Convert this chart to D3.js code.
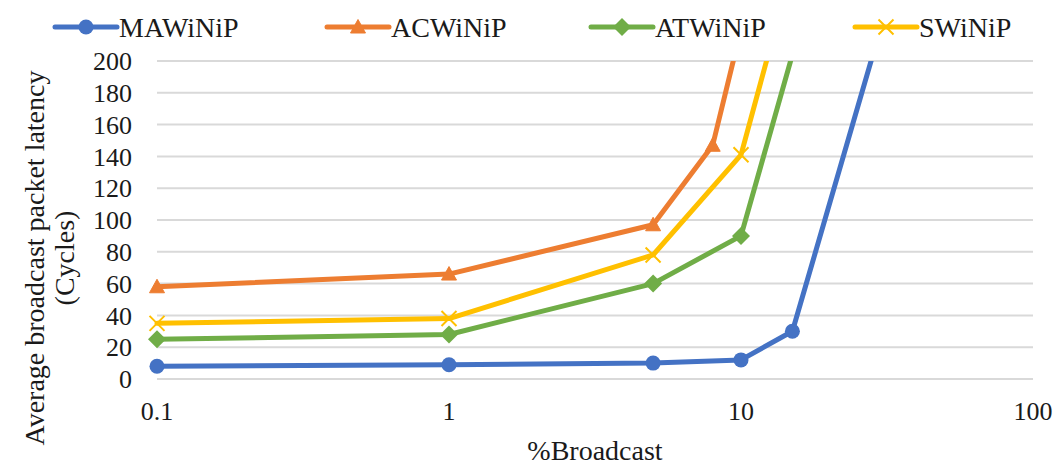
<!DOCTYPE html>
<html>
<head>
<meta charset="utf-8">
<script src="https://cdn.jsdelivr.net/npm/d3@7"></script>
<style>
  body { margin: 0; background: #fff; }
</style>
</head>
<body>
<svg id="chart" width="1057" height="466"></svg>
<script>
// values (lines leave the top of the plot, last points are estimates)
const seriesNames = ["MAWiNiP", "ACWiNiP", "ATWiNiP", "SWiNiP"];
const mawX = [0.1, 1, 5, 10, 15, 30];
const mawY = [8, 9, 10, 12, 30, 220];
const acwX = [0.1, 1, 5, 8, 10];
const acwY = [58, 66, 97, 147, 220];
const atwX = [0.1, 1, 5, 10, 20];
const atwY = [25, 28, 60, 90, 285];
const swX = [0.1, 1, 5, 10, 15];
const swY = [35, 38, 78, 141, 260];
const xTicks = [0.1, 1, 10, 100];
const yTicks = [0, 20, 40, 60, 80, 100, 120, 140, 160, 180, 200];

const colors = ["#4472C4", "#ED7D31", "#70AD47", "#FFC000"];
const symbols = ["circle", "triangle", "diamond", "x"];
const FONT = "'Liberation Serif', 'DejaVu Serif', serif";

const series = [
  { name: seriesNames[0], pts: mawX.map((x, i) => ({ x, y: mawY[i] })) },
  { name: seriesNames[1], pts: acwX.map((x, i) => ({ x, y: acwY[i] })) },
  { name: seriesNames[2], pts: atwX.map((x, i) => ({ x, y: atwY[i] })) },
  { name: seriesNames[3], pts: swX.map((x, i) => ({ x, y: swY[i] })) }
];

const svg = d3.select("#chart");
const x = d3.scaleLog().domain([0.1, 100]).range([157, 1033]);
const y = d3.scaleLinear().domain([0, 200]).range([379, 61]);

// grid
svg.append("g").selectAll("line")
  .data(yTicks).enter().append("line")
  .attr("x1", x(0.1)).attr("x2", x(100))
  .attr("y1", d => y(d)).attr("y2", d => y(d))
  .attr("stroke", "#d9d9d9").attr("stroke-width", 2);

// y labels
svg.append("g").selectAll("text")
  .data(yTicks).enter().append("text")
  .attr("x", 132).attr("y", d => y(d))
  .attr("dy", "0.35em")
  .attr("text-anchor", "end")
  .style("font-family", FONT)
  .style("font-size", "26px")
  .attr("fill", "#1a1a1a")
  .text(d => d);

// x labels
svg.append("g").selectAll("text")
  .data(xTicks).enter().append("text")
  .attr("x", d => x(d)).attr("y", 420)
  .attr("text-anchor", "middle")
  .style("font-family", FONT)
  .style("font-size", "26px")
  .attr("fill", "#1a1a1a")
  .text(d => d);

// axis titles
svg.append("text")
  .attr("x", 595).attr("y", 460)
  .attr("text-anchor", "middle")
  .style("font-family", FONT)
  .style("font-size", "28px")
  .attr("fill", "#1a1a1a")
  .text("%Broadcast");

const yt = svg.append("text")
  .attr("transform", "translate(0,258) rotate(-90)")
  .attr("text-anchor", "middle")
  .style("font-family", FONT)
  .style("font-size", "28px")
  .attr("fill", "#1a1a1a");
yt.append("tspan").attr("x", 0).attr("y", 44).text("Average broadcast packet latency");
yt.append("tspan").attr("x", 0).attr("y", 74).text("(Cycles)");

// clip only the top edge of the plot
svg.append("clipPath").attr("id", "clip")
  .append("rect").attr("x", 0).attr("y", y(200)).attr("width", 1057).attr("height", 466);

const plot = svg.append("g").attr("clip-path", "url(#clip)");
const line = d3.line().x(d => x(d.x)).y(d => y(d.y));

function drawMarker(g, i, px, py) {
  const c = colors[i];
  if (symbols[i] === "x") {
    const s = 7.5;
    g.append("path")
      .attr("d", `M${px - s},${py - s}L${px + s},${py + s}M${px - s},${py + s}L${px + s},${py - s}`)
      .attr("stroke", c).attr("stroke-width", 2).attr("fill", "none");
  } else if (symbols[i] === "circle") {
    g.append("circle").attr("cx", px).attr("cy", py).attr("r", 7.5).attr("fill", c);
  } else if (symbols[i] === "diamond") {
    const s = 9;
    g.append("path")
      .attr("d", `M${px},${py - s}L${px + s},${py}L${px},${py + s}L${px - s},${py}Z`)
      .attr("fill", c);
  } else {
    const s = 7.5;
    g.append("path")
      .attr("d", `M${px},${py - s}L${px + s},${py + s * 0.8}L${px - s},${py + s * 0.8}Z`)
      .attr("fill", c).attr("stroke", c).attr("stroke-width", 1).attr("stroke-linejoin", "round");
  }
}

series.forEach((s, i) => {
  plot.append("path")
    .datum(s.pts)
    .attr("d", line)
    .attr("fill", "none")
    .attr("stroke", colors[i])
    .attr("stroke-width", 5)
    .attr("stroke-linejoin", "round")
    .attr("stroke-linecap", "round");
});
series.forEach((s, i) => {
  const g = plot.append("g");
  s.pts.forEach(p => drawMarker(g, i, x(p.x), y(p.y)));
});

// legend
const legendX = [55, 327, 591, 855];
series.forEach((s, i) => {
  const g = svg.append("g");
  const lx = legendX[i], ly = 27;
  g.append("line")
    .attr("x1", lx).attr("x2", lx + 62)
    .attr("y1", ly).attr("y2", ly)
    .attr("stroke", colors[i]).attr("stroke-width", 5)
    .attr("stroke-linecap", "round");
  drawMarker(g, i, lx + 31, ly);
  g.append("text")
    .attr("x", lx + 64).attr("y", ly)
    .attr("dy", "0.35em")
    .style("font-family", FONT)
    .style("font-size", "28px")
    .attr("fill", "#1a1a1a")
    .text(s.name);
});
</script>
</body>
</html>
